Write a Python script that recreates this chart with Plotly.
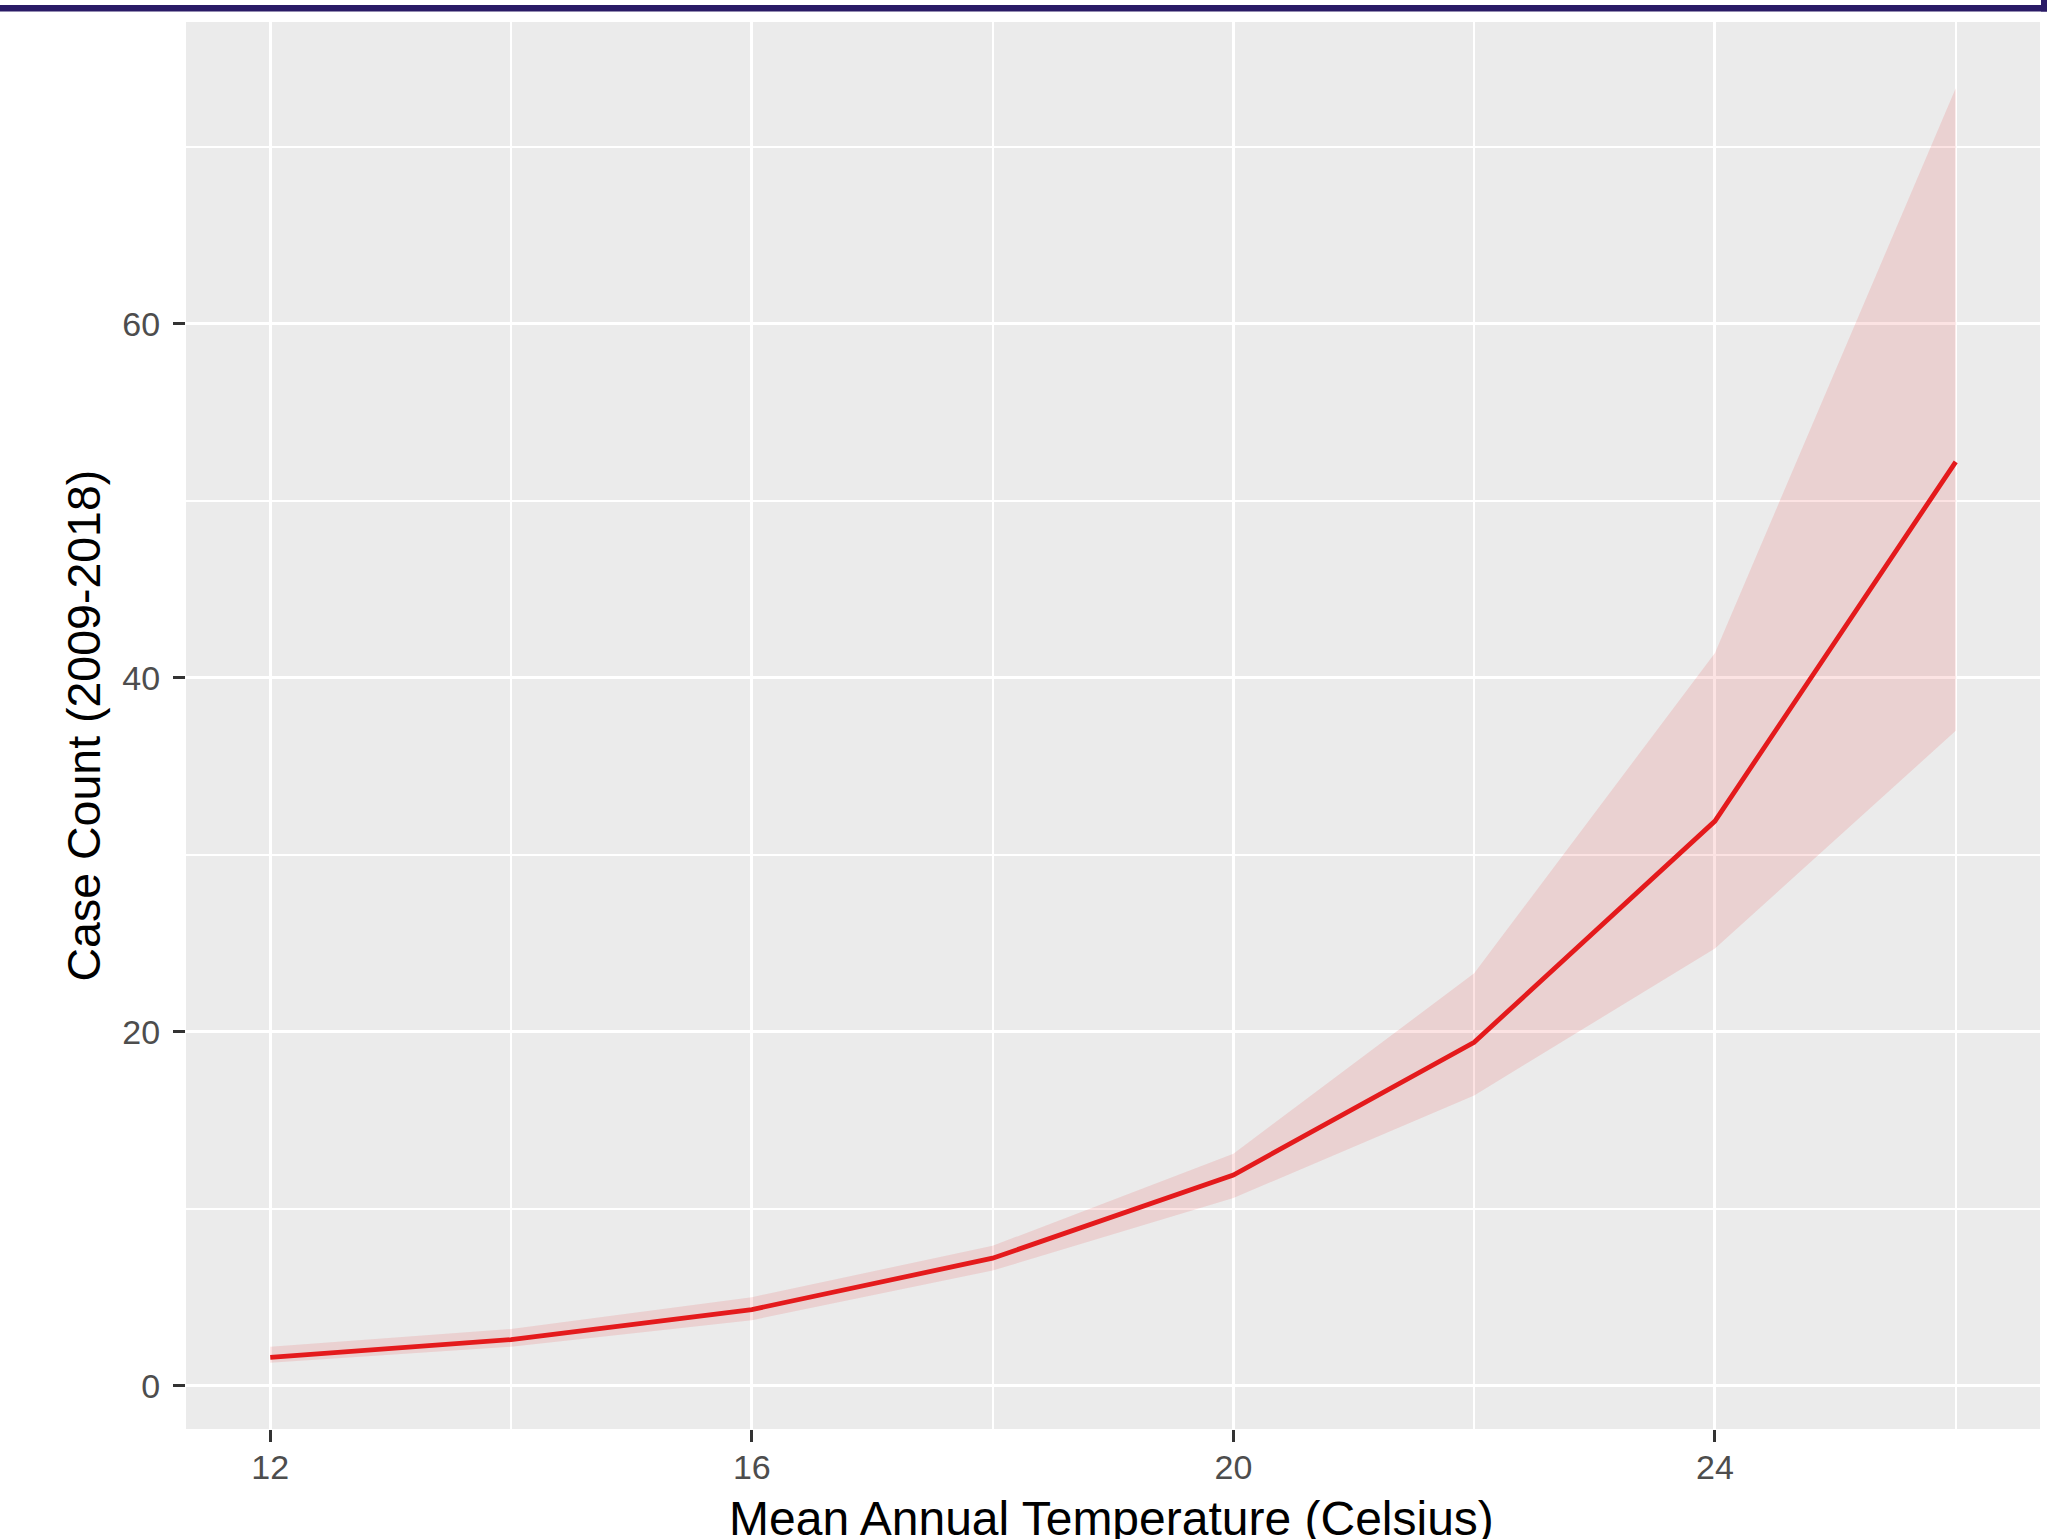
import plotly.graph_objects as go

# Data
temperature = [12, 14, 16, 18, 20, 22, 24, 26]
case_count = [1.6, 2.6, 4.3, 7.2, 11.9, 19.4, 31.9, 52.2]
ci_lower = [1.3, 2.2, 3.7, 6.5, 10.6, 16.4, 24.7, 37.0]
ci_upper = [2.2, 3.2, 5.0, 7.9, 13.1, 23.3, 41.4, 73.3]

x_ticks = [12, 16, 20, 24]
y_ticks = [0, 20, 40, 60]
x_minor = [14, 18, 22, 26]
y_minor = [10, 30, 50, 70]

W, H = 2050, 1539
L, R, T, B = 186, 2040, 22, 1429

fig = go.Figure()
fig.add_trace(go.Scatter(x=temperature, y=ci_upper, mode="lines",
                         line=dict(width=0), showlegend=False, hoverinfo="skip"))
fig.add_trace(go.Scatter(x=temperature, y=ci_lower, mode="lines",
                         line=dict(width=0), fill="tonexty",
                         fillcolor="rgba(228,26,28,0.12)",
                         showlegend=False, hoverinfo="skip"))
fig.add_trace(go.Scatter(x=temperature, y=case_count, mode="lines",
                         line=dict(color="#E41A1C", width=4.8),
                         showlegend=False))

axis_common = dict(
    showline=False, zeroline=False,
    gridcolor="white", gridwidth=3.2,
    ticks="outside", ticklen=12, tickwidth=2.5, tickcolor="#333333",
    tickfont=dict(family="Liberation Sans, Arial, sans-serif", size=34, color="#4D4D4D"),
)

fig.update_xaxes(range=[11.3, 26.7], tickvals=x_ticks, ticklabelstandoff=-4,
                 minor=dict(tickvals=x_minor, showgrid=True,
                            gridcolor="white", gridwidth=1.6, ticks=""),
                 **axis_common)
fig.update_yaxes(range=[-2.45, 77.05], tickvals=y_ticks, ticklabelstandoff=6,
                 minor=dict(tickvals=y_minor, showgrid=True,
                            gridcolor="white", gridwidth=1.6, ticks=""),
                 **axis_common)

pw, ph = R - L, B - T


def px_x(xp):
    return (xp - L) / pw


def px_y(yp):
    return (B - yp) / ph


fig.add_annotation(text="Case Count (2009-2018)", xref="paper", yref="paper",
                   x=px_x(83), y=0.5, xanchor="center", yanchor="middle",
                   textangle=-90, showarrow=False,
                   font=dict(family="Liberation Sans, Arial, sans-serif", size=46.5, color="black"))
fig.add_annotation(text="Mean Annual Temperature (Celsius)", xref="paper", yref="paper",
                   x=px_x(1111), y=px_y(1490), xanchor="center", yanchor="top",
                   showarrow=False,
                   font=dict(family="Liberation Sans, Arial, sans-serif", size=48, color="black"))

# frame lines at the top/right of the image
fig.add_shape(type="rect", xref="paper", yref="paper",
              x0=px_x(-5), x1=px_x(2047), y0=px_y(11.5), y1=px_y(5),
              fillcolor="#2A1B66", line=dict(width=0), layer="above")
fig.add_shape(type="rect", xref="paper", yref="paper",
              x0=px_x(2041), x1=px_x(2047), y0=px_y(11.5), y1=px_y(-5),
              fillcolor="#2A1B66", line=dict(width=0), layer="above")

fig.update_layout(
    width=W, height=H,
    margin=dict(l=L, r=W - R, t=T, b=H - B),
    paper_bgcolor="white", plot_bgcolor="#EBEBEB",
    font=dict(family="Liberation Sans, Arial, sans-serif"),
)

fig.write_html("out.html", config={"displayModeBar": False},
               post_script="document.body.style.margin='0';document.body.style.overflow='hidden';")
